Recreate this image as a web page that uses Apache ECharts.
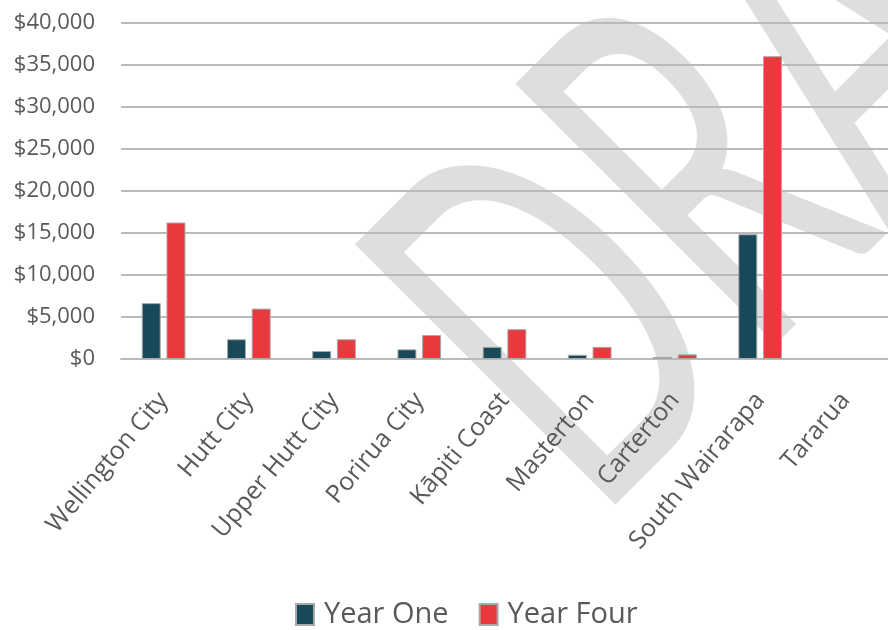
<!DOCTYPE html>
<html>
<head>
<meta charset="utf-8">
<script src="https://cdn.jsdelivr.net/npm/echarts@6/dist/echarts.min.js"></script>
<style>
  html, body { margin: 0; padding: 0; background: #ffffff; }
  #chart { width: 888px; height: 630px; }
</style>
</head>
<body>
<div id="chart"></div>
<script>
// Districts along the category axis
const categories = ['Wellington City', 'Hutt City', 'Upper Hutt City', 'Porirua City', 'Kāpiti Coast', 'Masterton', 'Carterton', 'South Wairarapa', 'Tararua'];
// Dollar values per district
const yearOne = [6650, 2350, 950, 1150, 1450, 500, 250, 14850, 0];
const yearFour = [16250, 6000, 2350, 2850, 3550, 1450, 550, 36050, 0];
const seriesNames = ['Year One', 'Year Four'];
// Value axis range and tick step
const yMin = 0, yMax = 40000, yStep = 5000;

const navy = '#18495a';
const red = '#e83a3e';
const textGrey = '#595959';
const gridGrey = '#bababa';
const barEdge = '#a9a9a9';
const font = 'Open Sans';

// Bars with a zero value get no outline so nothing is drawn for them
function barItems(values) {
  return values.map(v => v === 0 ? { value: v, itemStyle: { borderWidth: 0 } } : v);
}

const wmSize = 514;
const chart = echarts.init(document.getElementById('chart'), null, { renderer: 'canvas' });

chart.setOption({
  animation: false,
  backgroundColor: '#ffffff',
  textStyle: { fontFamily: font },
  graphic: [{
    // Diagonal "DRAFT" watermark behind the plot
    type: 'text',
    z: -10,
    silent: true,
    x: 614,
    y: 506,
    rotation: Math.PI / 4,
    scaleX: 0.58,
    scaleY: 1,
    style: {
      text: 'DRAFT',
      x: -0.085 * wmSize,
      y: -0.3225 * wmSize,
      fontSize: wmSize,
      fontFamily: 'Lato',
      fontWeight: 'normal',
      fill: '#dedede',
      align: 'left',
      verticalAlign: 'middle'
    }
  }],
  grid: { left: 121, right: -9, top: 23, bottom: 271 },
  legend: {
    data: seriesNames,
    left: 295,
    top: 600,
    padding: 0,
    icon: 'rect',
    itemWidth: 18,
    itemHeight: 21,
    itemGap: 30,
    textStyle: { fontSize: 29, color: textGrey, fontFamily: font, padding: [0, 0, 0, 5] }
  },
  xAxis: {
    type: 'category',
    data: categories,
    axisTick: { show: false },
    axisLine: { show: true, lineStyle: { color: gridGrey, width: 2 } },
    axisLabel: {
      rotate: 50,
      interval: 0,
      margin: 37,
      fontSize: 25,
      color: textGrey,
      fontFamily: font
    }
  },
  yAxis: {
    type: 'value',
    min: yMin,
    max: yMax,
    interval: yStep,
    axisLine: { show: false },
    axisTick: { show: false },
    splitLine: { lineStyle: { color: gridGrey, width: 2 } },
    axisLabel: {
      margin: 26,
      fontSize: 22,
      color: textGrey,
      fontFamily: font,
      formatter: v => '$' + v.toLocaleString('en-US')
    }
  },
  series: [
    {
      name: seriesNames[0],
      type: 'bar',
      data: barItems(yearOne),
      barWidth: 19,
      barGap: '30%',
      itemStyle: { color: navy, borderColor: barEdge, borderWidth: 1 }
    },
    {
      name: seriesNames[1],
      type: 'bar',
      data: barItems(yearFour),
      barWidth: 19,
      barGap: '30%',
      itemStyle: { color: red, borderColor: barEdge, borderWidth: 1 }
    }
  ]
});
</script>
</body>
</html>
